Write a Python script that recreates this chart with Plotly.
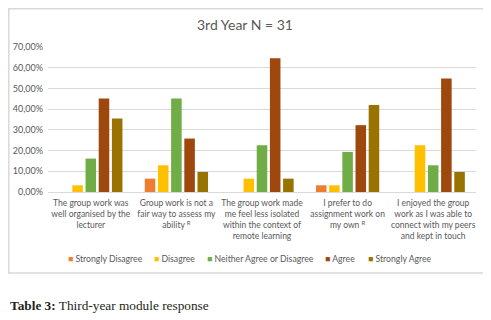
import plotly.graph_objects as go

categories = [
    "The group work was<br>well organised by the<br>lecturer",
    "Group work is not a<br>fair way to assess my<br>ability <sup>R</sup>",
    "The group work made<br>me feel less isolated<br>within the context of<br>remote learning",
    "I prefer to do<br>assignment work on<br>my own <sup>R</sup>",
    "I enjoyed the group<br>work as I was able to<br>connect with my peers<br>and kept in touch",
]
series_names = ["Strongly Disagree", "Disagree", "Neither Agree or Disagree", "Agree", "Strongly Agree"]
strongly_disagree = [None, 0.0645, None, 0.0323, None]
disagree = [0.0323, 0.1290, 0.0645, 0.0323, 0.2258]
neither = [0.1613, 0.4516, 0.2258, 0.1935, 0.1290]
agree = [0.4516, 0.2581, 0.6452, 0.3226, 0.5484]
strongly_agree = [0.3548, 0.0968, 0.0645, 0.4194, 0.0968]
colors = ["#ED7D31", "#FFC000", "#70AD47", "#9E480E", "#997300"]
y_ticks = [0, 0.1, 0.2, 0.3, 0.4, 0.5, 0.6, 0.7]
y_tick_labels = ["0,00%", "10,00%", "20,00%", "30,00%", "40,00%", "50,00%", "60,00%", "70,00%"]

font_family = "Lato, 'Liberation Sans', sans-serif"
fig = go.Figure()
for name, vals, col in zip(series_names,
                           [strongly_disagree, disagree, neither, agree, strongly_agree],
                           colors):
    fig.add_trace(go.Bar(x=categories, y=vals, name=name, marker_color=col,
                         marker_line_width=0, showlegend=False))

# the page body has an 8px default margin; lay out in page pixels minus that offset
O = 8
W, H = 491 - O, 320 - O
L, T = 48 - O, 47 - O
R = W - (476 - O)
B = H - (192 - O)
pw, ph = W - L - R, H - T - B

def px(x):
    return (x - O - L) / pw

def py(y):
    return (H - B - (y - O)) / ph

legend_x = [66, 152, 205, 323, 366]
annotations = []
for name, col, lx in zip(series_names, colors, legend_x):
    annotations.append(dict(
        text=f'<span style="color:{col}">■</span> {name}',
        xref="paper", yref="paper", x=px(lx), y=py(258),
        xanchor="left", yanchor="middle", showarrow=False,
        font=dict(size=8.7, color="#595959", family=font_family)))
annotations.append(dict(text="<b>Table 3:</b> Third-year module response",
                        xref="paper", yref="paper", x=px(8), y=py(305),
                        xanchor="left", yanchor="middle", showarrow=False,
                        font=dict(family="'Liberation Serif', 'DejaVu Serif', serif",
                                  size=13.3, color="#231F20")))

fig.update_layout(
    width=W, height=H,
    margin=dict(l=L, r=R, t=T, b=B, autoexpand=False),
    paper_bgcolor="white", plot_bgcolor="white",
    barmode="group", bargap=0.23, bargroupgap=0.2,
    font=dict(family=font_family, color="#595959", size=9),
    title=dict(text="3rd Year N = 31", x=(245 - O) / W, xanchor="center", xref="container",
               y=1 - (25 - O) / H, yref="container", yanchor="middle",
               font=dict(size=14, color="#595959", family=font_family)),
    showlegend=False,
    yaxis=dict(range=[0, 0.7], tickvals=y_ticks, ticktext=y_tick_labels,
               showgrid=True, gridcolor="#D9D9D9", gridwidth=1, zeroline=False,
               showline=False, ticks="", automargin=False, ticklabelstandoff=4,
               tickfont=dict(size=9, color="#595959")),
    xaxis=dict(showline=True, linecolor="#D9D9D9", ticks="", showgrid=False,
               automargin=False, ticklabelstandoff=3,
               tickfont=dict(size=8.5, color="#595959"), tickangle=0),
    shapes=[dict(type="rect", xref="paper", yref="paper",
                 x0=px(8.8), x1=px(486), y0=py(273), y1=py(8.8),
                 line=dict(color="#D9D9D9", width=1.5), fillcolor="rgba(0,0,0,0)",
                 layer="below")],
    annotations=annotations,
)

fig.write_html("out.html")
